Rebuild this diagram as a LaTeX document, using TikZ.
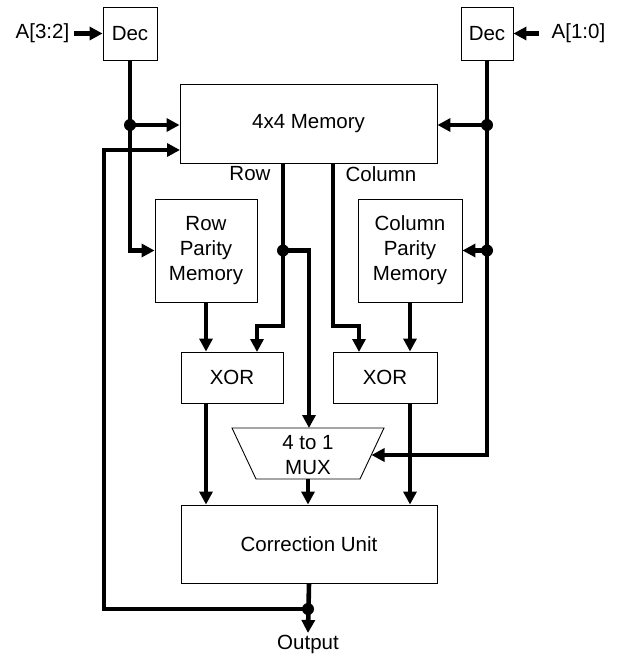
\documentclass[tikz,border=0pt]{standalone}
\usepackage{fontspec}
\setmainfont{Liberation Sans}
\usetikzlibrary{arrows.meta}
\begin{document}
\begin{tikzpicture}[x=1pt,y=-1pt,
  font=\fontsize{20.5}{25}\selectfont,
  box/.style={draw,line width=0.9pt,inner sep=0pt,align=center},
  wire/.style={line width=4.6pt},
  arr/.style={wire,-{Triangle[length=13pt,width=13pt]}},
  dotc/.style={fill=black},
  lbl/.style={inner sep=0pt}]
\useasboundingbox (0,0) rectangle (619,658);
% blocks
\node[box,minimum width=54pt,minimum height=53pt] (decL) at (130,33.5) {Dec};
\node[box,minimum width=52pt,minimum height=53pt] (decR) at (487,33.5) {Dec};
\node[box,minimum width=257pt,minimum height=79pt] (mem) at (308.5,123.5) {4x4 Memory};
\node[box,minimum width=102pt,minimum height=103pt] (rpm) at (206,250.5) {Row\\Parity\\Memory};
\node[box,minimum width=104pt,minimum height=103pt] (cpm) at (410,250.5) {Column\\Parity\\Memory};
\node[box,minimum width=102pt,minimum height=51pt] (xorL) at (232,377.5) {XOR};
\node[box,minimum width=104pt,minimum height=51pt] (xorR) at (385,377.5) {XOR};
\node[box,minimum width=256pt,minimum height=78pt] (cu) at (309,544) {Correction Unit};
\draw[line width=0.9pt] (232,428) -- (384,428) -- (360,479) -- (256,479) -- cycle;
\node[lbl,align=center] (mux) at (308,455) {4 to 1\\MUX};
% labels
\node[lbl,inner xsep=5pt] (a32) at (42.5,33.5) {A[3:2]};
\node[lbl,inner xsep=13pt] (a10) at (578.5,33.5) {A[1:0]};
\node[lbl] (rowl) at (250,174) {Row};
\node[lbl] (coll) at (381,174) {Column};
\node[lbl] (outl) at (308,644) {Output};
% coordinates
\coordinate (jL1) at (130,125);
\coordinate (jR1) at (487,125);
\coordinate (jR2) at (487,250.5);
\coordinate (rowOut) at (283,163);
\coordinate (jRow) at (283,250.5);
\coordinate (colOut) at (333,163);
\coordinate (xLin2) at (257,352);
\coordinate (xRin1) at (359,352);
\coordinate (muxIn) at (309,428);
\coordinate (muxR) at (371.5,455);
\coordinate (muxOut) at (308,479);
\coordinate (jOut) at (308,609);
\coordinate (outEnd) at (308,633);
\coordinate (memIn2) at (180,150);
% connectors
\draw[arr] (a32.east) -- (decL.west);
\draw[arr] (a10.west) -- (decR.east);
\draw[arr] (decL.south) |- (rpm.west);
\draw[arr] (jL1) -- (jL1 -| mem.west);
\draw[arr] (decR.south) |- (muxR);
\draw[arr] (jR1) -- (jR1 -| mem.east);
\draw[arr] (jR2) -- (jR2 -| cpm.east);
\draw[arr] (rowOut) -- (283,326) -| (xLin2);
\draw[arr] (jRow) -| (muxIn);
\draw[arr] (colOut) -- (333,326) -| (xRin1);
\draw[arr] (rpm.south) -- (rpm.south |- xorL.north);
\draw[arr] (cpm.south) -- (cpm.south |- xorR.north);
\draw[arr] (rpm.south |- xorL.south) -- (rpm.south |- cu.north);
\draw[arr] (muxOut) -- (muxOut |- cu.north);
\draw[arr] (cpm.south |- xorR.south) -- (cpm.south |- cu.north);
\draw[arr] (cu.south) -- (outEnd);
\draw[arr] (jOut) -| (104,150) -- (memIn2);
% junction dots
\foreach \p in {jL1,jR1,jR2,jRow,jOut} \fill[dotc] (\p) circle (6pt);
\end{tikzpicture}
\end{document}
